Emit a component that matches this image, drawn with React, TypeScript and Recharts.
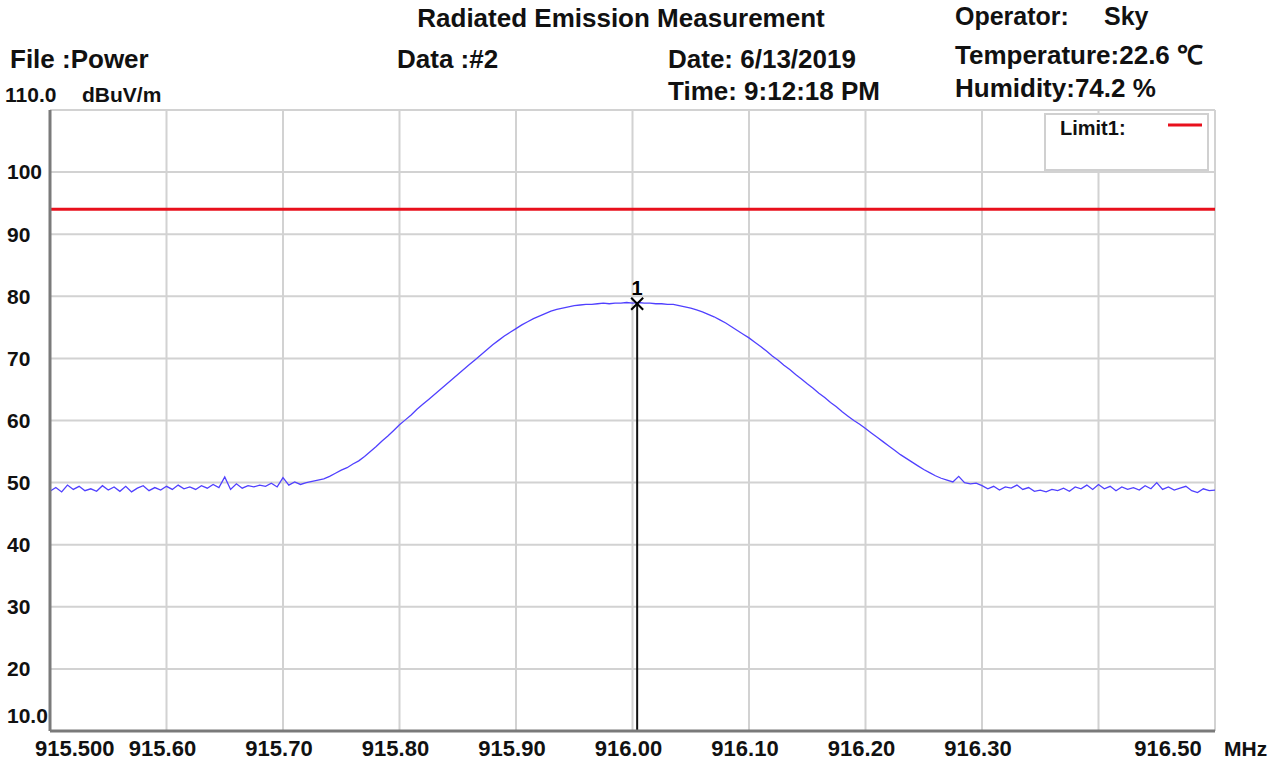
import React from 'react';
import { LineChart, Line, XAxis, YAxis, CartesianGrid, ReferenceLine, ReferenceDot } from 'recharts';

// Sweep: 915.500 MHz to 916.500 MHz, 201 points, 0.005 MHz apart
const sweepStartMHz = 915.5;
const sweepStepMHz = 0.005;

const levels = [
  48.6, 49.2, 48.5, 49.6, 48.9, 49.4, 48.7, 49.0, 48.6, 49.5,
  48.8, 49.3, 48.6, 49.4, 48.5, 49.1, 49.5, 48.7, 49.2, 48.8,
  49.4, 48.9, 49.6, 49.0, 49.3, 48.9, 49.5, 49.1, 49.7, 49.2,
  50.9, 48.9, 49.8, 49.1, 49.5, 49.3, 49.6, 49.4, 49.9, 49.3,
  50.8, 49.6, 50.1, 49.7, 50.0, 50.2, 50.4, 50.6, 51.0, 51.5,
  52.0, 52.4, 53.0, 53.5, 54.2, 55.0, 55.8, 56.7, 57.5, 58.4,
  59.3, 60.1, 60.9, 61.8, 62.6, 63.4, 64.2, 65.0, 65.8, 66.6,
  67.4, 68.2, 69.0, 69.8, 70.6, 71.4, 72.2, 72.9, 73.6, 74.2,
  74.8, 75.4, 75.9, 76.4, 76.8, 77.2, 77.6, 77.9, 78.1, 78.3,
  78.5, 78.6, 78.7, 78.7, 78.8, 78.9, 78.8, 78.9, 78.9, 79.0,
  78.9,
  79.0, 78.9, 78.9, 78.8, 78.8, 78.7, 78.7, 78.5, 78.3, 78.1,
  77.8, 77.5, 77.1, 76.7, 76.2, 75.7, 75.1, 74.5, 73.9, 73.3,
  72.6, 71.9, 71.2, 70.4, 69.7, 68.9, 68.2, 67.4, 66.7, 65.9,
  65.2, 64.4, 63.7, 62.9, 62.2, 61.4, 60.7, 60.0, 59.4, 58.7,
  58.0, 57.3, 56.6, 55.9, 55.2, 54.5, 53.9, 53.3, 52.7, 52.1,
  51.6, 51.1, 50.7, 50.4, 50.1, 51.0, 50.0, 49.8, 49.9, 49.5,
  49.0, 49.4, 48.8, 49.3, 49.1, 49.6, 48.9, 49.2, 48.6, 48.8,
  48.5, 48.9, 48.7, 49.1, 48.6, 49.3, 49.0, 49.6, 48.9, 49.7,
  49.0, 49.4, 48.7, 49.3, 48.9, 49.2, 48.8, 49.5, 49.0, 50.0,
  48.9, 49.3, 48.8, 49.1, 49.4, 48.7, 48.4, 49.0, 48.7, 48.8,
];

const xTicks = [915.5, 915.6, 915.7, 915.8, 915.9, 916.0, 916.1, 916.2, 916.3, 916.4, 916.5];
const xTickLabels = ['915.500', '915.60', '915.70', '915.80', '915.90', '916.00', '916.10', '916.20', '916.30', '', '916.50'];
const yTicks = [10, 20, 30, 40, 50, 60, 70, 80, 90, 100, 110];

const limitLevel = 94;
const markerFreq = 916.004;
const markerLevel = 78.8;
const markerLabel = '1';

const titleText = 'Radiated Emission Measurement';
const fileText = 'File :Power';
const dataText = 'Data :#2';
const dateText = 'Date: 6/13/2019';
const timeText = 'Time: 9:12:18 PM';
const operatorText = 'Operator:';
const operatorName = 'Sky';
const temperatureText = 'Temperature:22.6 \u2103';
const humidityText = 'Humidity:74.2 %';
const unitText = 'dBuV/m';
const xUnitText = 'MHz';
const legendText = 'Limit1:';

const chartData = levels.map((v, i) => ({
  freq: Number((sweepStartMHz + i * sweepStepMHz).toFixed(3)),
  level: v,
}));

const FONT = '"Liberation Sans", Arial, sans-serif';
const TEXT_COLOR = '#111';

const XTick = (props: any) => {
  const { x, y, payload } = props;
  const v = payload.value;
  const idx = xTicks.findIndex((t) => Math.abs(t - v) < 1e-6);
  const label = idx >= 0 ? xTickLabels[idx] : '';
  const common = { fontFamily: FONT, fontWeight: 700, fontSize: 22, fill: TEXT_COLOR } as any;
  if (idx === 0) {
    return <text x={x - 15} y={y + 25} textAnchor="start" {...common}>{label}</text>;
  }
  if (idx === xTicks.length - 1) {
    return (
      <g>
        <text x={x - 47} y={y + 25} textAnchor="middle" {...common}>{label}</text>
        <text x={x + 9} y={y + 25} textAnchor="start" {...common} fontSize={21}>{xUnitText}</text>
      </g>
    );
  }
  if (!label) return <g />;
  return <text x={x - 4} y={y + 25} textAnchor="middle" {...common}>{label}</text>;
};

const YTick = (props: any) => {
  const { y, payload } = props;
  const v = payload.value;
  const common = { fontFamily: FONT, fontWeight: 700, fontSize: 21, fill: TEXT_COLOR } as any;
  if (v === 110) {
    return (
      <g>
        <text x={5} y={y - 15} dy="0.35em" textAnchor="start" {...common}>{v.toFixed(1)}</text>
        <text x={82} y={y - 15} dy="0.35em" textAnchor="start" {...common}>{unitText}</text>
      </g>
    );
  }
  if (v === 10) {
    return <text x={7} y={y - 15} dy="0.35em" textAnchor="start" {...common}>{v.toFixed(1)}</text>;
  }
  return <text x={7} y={y} dy="0.35em" textAnchor="start" {...common}>{v}</text>;
};

const MarkerShape = (props: any) => {
  const { cx, cy } = props;
  return (
    <g>
      <line x1={cx - 6} y1={cy - 6} x2={cx + 6} y2={cy + 6} stroke="#000" strokeWidth={2} />
      <line x1={cx - 6} y1={cy + 6} x2={cx + 6} y2={cy - 6} stroke="#000" strokeWidth={2} />
      <text x={cx} y={cy - 9} textAnchor="middle" fontFamily={FONT} fontWeight={700} fontSize={20} fill="#000">
        {markerLabel}
      </text>
    </g>
  );
};

const headerStyle = { fontFamily: FONT, fontWeight: 700, fontSize: 26, fill: TEXT_COLOR } as any;

export default function App() {
  return (
    <div style={{ position: 'absolute', left: 0, top: 0, width: 1271, height: 765, background: '#fff', overflow: 'hidden' }}>
      <LineChart
        width={1271}
        height={765}
        data={chartData}
        margin={{ top: 110, right: 56, left: 0, bottom: 0 }}
      >
        <CartesianGrid xAxisId="main" yAxisId="main" stroke="#d2d2d2" strokeWidth={2} horizontal vertical />
        <XAxis
          xAxisId="main"
          type="number"
          dataKey="freq"
          domain={[915.5, 916.5]}
          ticks={xTicks}
          allowDataOverflow
          height={34}
          tickSize={0}
          tickMargin={0}
          tickLine={false}
          axisLine={{ stroke: '#7a7a7a', strokeWidth: 3 }}
          tick={<XTick />}
          interval={0}
        />
        <XAxis
          xAxisId="top"
          orientation="top"
          type="number"
          domain={[915.5, 916.5]}
          ticks={xTicks}
          height={0}
          tick={false}
          tickLine={false}
          axisLine={{ stroke: '#8c8c8c', strokeWidth: 2 }}
        />
        <YAxis
          yAxisId="main"
          type="number"
          domain={[10, 110]}
          ticks={yTicks}
          width={50}
          tickSize={0}
          tickMargin={0}
          tickLine={false}
          axisLine={{ stroke: '#7a7a7a', strokeWidth: 3 }}
          tick={<YTick />}
          interval={0}
        />
        <YAxis
          yAxisId="right"
          orientation="right"
          type="number"
          domain={[10, 110]}
          ticks={yTicks}
          width={0}
          tick={false}
          tickLine={false}
          axisLine={{ stroke: '#7a7a7a', strokeWidth: 3 }}
        />
        <ReferenceLine
          xAxisId="main"
          yAxisId="main"
          y={limitLevel}
          stroke="#e8101c"
          strokeWidth={3}
        />
        <ReferenceLine
          xAxisId="main"
          yAxisId="main"
          segment={[{ x: markerFreq, y: 10 }, { x: markerFreq, y: markerLevel }]}
          stroke="#111"
          strokeWidth={2}
        />
        <Line
          xAxisId="main"
          yAxisId="main"
          type="linear"
          dataKey="level"
          stroke="#5040ff"
          strokeWidth={1.3}
          dot={false}
          isAnimationActive={false}
        />
        <ReferenceDot
          xAxisId="main"
          yAxisId="main"
          x={markerFreq}
          y={markerLevel}
          shape={<MarkerShape />}
        />
      </LineChart>
      <svg
        width={1271}
        height={765}
        style={{ position: 'absolute', left: 0, top: 0, pointerEvents: 'none' }}
      >
        <text x={621} y={27} textAnchor="middle" {...headerStyle}>{titleText}</text>
        <text x={10} y={68} {...headerStyle}>{fileText}</text>
        <text x={397} y={68} {...headerStyle}>{dataText}</text>
        <text x={668} y={68} {...headerStyle}>{dateText}</text>
        <text x={668} y={100} {...headerStyle}>{timeText}</text>
        <text x={955} y={25} {...headerStyle} fontSize={25}>{operatorText}</text>
        <text x={1104} y={25} {...headerStyle} fontSize={25}>{operatorName}</text>
        <text x={955} y={64} {...headerStyle}>{temperatureText}</text>
        <text x={955} y={97} {...headerStyle}>{humidityText}</text>
        <rect x={1045} y={114} width={163} height={56} fill="#fff" stroke="#d0d0d0" strokeWidth={2} />
        <text x={1060} y={135} fontFamily={FONT} fontWeight={700} fontSize={20} fill={TEXT_COLOR}>{legendText}</text>
        <line x1={1168} y1={125} x2={1202} y2={125} stroke="#e8101c" strokeWidth={3} />
      </svg>
    </div>
  );
}
